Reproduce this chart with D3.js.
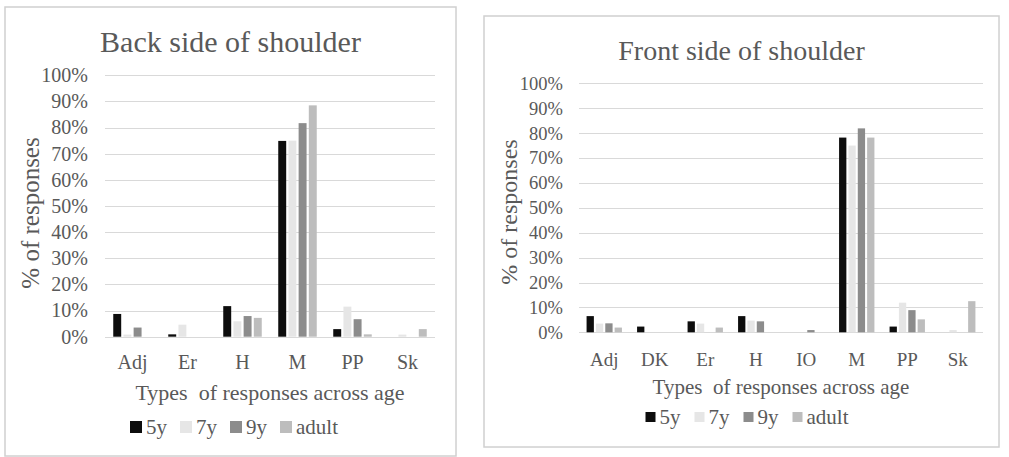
<!DOCTYPE html>
<html>
<head>
<meta charset="utf-8">
<script src="https://cdn.jsdelivr.net/npm/d3@7"></script>
<style>
  html, body { margin: 0; padding: 0; background: #ffffff; }
  svg { display: block; }
  svg text { font-family: "Liberation Serif", Tinos, "Times New Roman", Times, "Nimbus Roman", "DejaVu Serif", serif !important; fill: #595959; }
</style>
</head>
<body>
<svg id="chart" width="1009" height="457"></svg>
<script>
// ---- data ----
const seriesNames = ["5y", "7y", "9y", "adult"];
const seriesColors = ["#0d0d0d", "#e6e6e6", "#8c8c8c", "#bdbdbd"];
const yTickValues = [0, 10, 20, 30, 40, 50, 60, 70, 80, 90, 100];

const backTitle = "Back side of shoulder";
const backCategories = ["Adj", "Er", "H", "M", "PP", "Sk"];
const back5y    = [8.7, 0.9, 11.7, 74.9, 2.9, 0];
const back7y    = [0.8, 4.6, 5.9, 75.0, 11.5, 0.8];
const back9y    = [3.5, 0, 7.9, 81.7, 6.7, 0];
const backAdult = [0, 0, 7.2, 88.5, 0.9, 2.9];

const frontTitle = "Front side of shoulder";
const frontCategories = ["Adj", "DK", "Er", "H", "IO", "M", "PP", "Sk"];
const front5y    = [6.5, 2.3, 4.4, 6.5, 0, 78.2, 2.3, 0];
const front7y    = [3.5, 0, 3.5, 4.7, 0, 75.0, 11.9, 0.9];
const front9y    = [3.6, 0, 0, 4.4, 0.9, 81.9, 8.9, 0];
const frontAdult = [1.9, 0, 1.9, 0, 0, 78.2, 5.2, 12.5];

const yAxisTitle = "% of responses";
const xAxisTitle = "Types  of responses across age";

// ---- drawing ----
const svg = d3.select("#chart");

function drawChart(cfg) {
  const g = svg.append("g");
  g.append("rect")
    .attr("x", cfg.panel.x).attr("y", cfg.panel.y)
    .attr("width", cfg.panel.w).attr("height", cfg.panel.h)
    .attr("fill", "#fff").attr("stroke", "#d0d0d0").attr("stroke-width", 1.5);

  const x = d3.scaleBand().domain(cfg.categories)
    .range([cfg.plot.x0, cfg.plot.x1]).paddingInner(0.3).paddingOuter(0.15);
  const xOuter = d3.scaleBand().domain(cfg.categories)
    .range([cfg.plot.x0, cfg.plot.x1]).padding(0);
  const y = d3.scaleLinear().domain([0, 100]).range([cfg.plot.y0, cfg.plot.y1]);
  const xi = d3.scaleBand().domain(seriesNames)
    .range([0, x.bandwidth()]).paddingInner(0.22);
  const color = d3.scaleOrdinal().domain(seriesNames).range(seriesColors);

  g.append("g").selectAll("line").data(yTickValues).join("line")
    .attr("x1", cfg.plot.x0).attr("x2", cfg.plot.x1)
    .attr("y1", d => Math.round(y(d)) + 0.5).attr("y2", d => Math.round(y(d)) + 0.5)
    .attr("stroke", "#d9d9d9").attr("stroke-width", 1);

  const yAxis = d3.axisLeft(y).tickValues(yTickValues).tickFormat(d => d + "%").tickSize(0).tickPadding(0);
  const ya = g.append("g").attr("transform", `translate(${cfg.tickRight},0)`).call(yAxis);
  ya.attr("font-family", null);
  ya.select(".domain").remove();
  ya.selectAll("text").attr("font-size", cfg.fs.tick).attr("fill", "#595959");

  const seriesData = cfg.series.map((vals, si) => ({ name: seriesNames[si], vals }));
  const groups = g.append("g").selectAll("g").data(seriesData).join("g")
    .attr("fill", d => color(d.name));
  groups.selectAll("rect").data(d => d.vals.map((v, i) => ({ s: d.name, c: cfg.categories[i], v })))
    .join("rect")
    .filter(d => d.v > 0)
    .attr("x", d => xOuter(d.c) + (xOuter.bandwidth() - x.bandwidth()) / 2 + xi(d.s))
    .attr("width", xi.bandwidth())
    .attr("y", d => y(d.v))
    .attr("height", d => y(0) - y(d.v));

  const xAxis = d3.axisBottom(xOuter).tickSize(0).tickPadding(0);
  const xa = g.append("g").attr("transform", `translate(0,${cfg.catLabelY})`).call(xAxis);
  xa.attr("font-family", null);
  xa.select(".domain").remove();
  xa.selectAll("text").attr("font-size", cfg.fs.cat).attr("fill", "#595959")
    .attr("dy", "0.35em").attr("y", 0);

  g.append("text").attr("x", cfg.panel.x + cfg.panel.w / 2).attr("y", cfg.titleY)
    .attr("text-anchor", "middle").attr("font-size", cfg.fs.title).text(cfg.title);

  g.append("text").attr("x", (cfg.plot.x0 + cfg.plot.x1) / 2).attr("y", cfg.xTitleY)
    .attr("dy", "0.35em").attr("text-anchor", "middle").attr("font-size", cfg.fs.xTitle)
    .style("white-space", "pre").text(xAxisTitle);
  g.append("text")
    .attr("transform", `translate(${cfg.yTitleX},${cfg.yTitleY}) rotate(-90)`)
    .attr("dy", "0.35em").attr("text-anchor", "middle").attr("font-size", cfg.fs.yTitle)
    .text(yAxisTitle);

  const lg = g.append("g");
  let cx = 0;
  seriesNames.forEach((name) => {
    const it = lg.append("g").attr("transform", `translate(${cx},0)`);
    it.append("rect").attr("x", 0).attr("y", -cfg.sq / 2).attr("width", cfg.sq).attr("height", cfg.sq)
      .attr("fill", color(name));
    const t = it.append("text").attr("x", cfg.sq + 4).attr("y", 0).attr("dy", "0.35em")
      .attr("font-size", cfg.fs.legend).text(name);
    const w = t.node().getComputedTextLength();
    cx += cfg.sq + 4 + w + cfg.legendGap;
  });
  const total = cx - cfg.legendGap;
  lg.attr("transform", `translate(${cfg.legendCx - total / 2},${cfg.legendY})`);
}

drawChart({
  title: backTitle,
  categories: backCategories,
  series: [back5y, back7y, back9y, backAdult],
  panel: { x: 5, y: 7, w: 451, h: 449 },
  plot: { x0: 105, x1: 435, y0: 336.7, y1: 75.3 },
  tickRight: 88,
  catLabelY: 362,
  titleY: 52,
  xTitleY: 392,
  yTitleX: 30, yTitleY: 213,
  legendY: 427, legendCx: 234,
  sq: 12, legendGap: 13,
  fs: { title: 30, tick: 20, cat: 20, xTitle: 22, yTitle: 25, legend: 21 }
});

drawChart({
  title: frontTitle,
  categories: frontCategories,
  series: [front5y, front7y, front9y, frontAdult],
  panel: { x: 484, y: 16, w: 515, h: 431 },
  plot: { x0: 579, x1: 983, y0: 332.3, y1: 83.3 },
  tickRight: 563,
  catLabelY: 359,
  titleY: 60,
  xTitleY: 387,
  yTitleX: 509, yTitleY: 212,
  legendY: 417, legendCx: 747,
  sq: 10, legendGap: 14,
  fs: { title: 28, tick: 18.5, cat: 19, xTitle: 21, yTitle: 24, legend: 21 }
});
</script>
</body>
</html>
